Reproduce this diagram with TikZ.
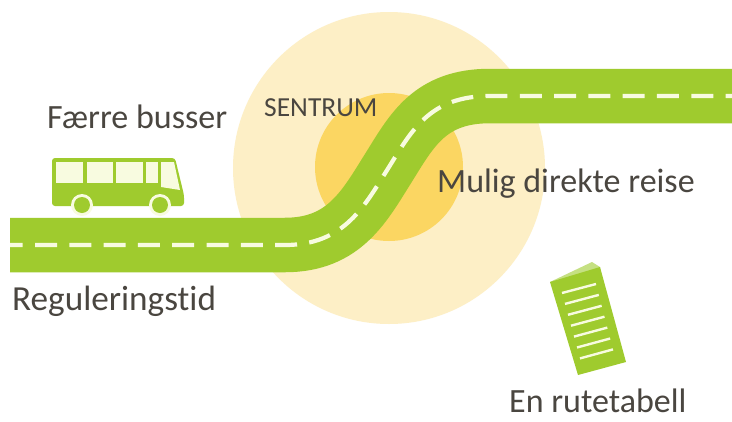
\documentclass[tikz,border=0pt]{standalone}
\usepackage{fontspec}
\setmainfont[Ligatures=NoCommon,Contextuals=NoAlternate]{Carlito}
\definecolor{roadg}{HTML}{9FCB2E}
\definecolor{pale}{HTML}{FDEFC6}
\definecolor{gold}{HTML}{FBD662}
\definecolor{txt}{HTML}{4A4640}
\definecolor{ring}{HTML}{F8FBE0}
\tikzset{
 lbl/.style={text=txt,inner sep=0pt,font=\fontsize{34pt}{36pt}\selectfont},
 win/.style={fill=ring,draw=none},
 bookline/.style={draw=ring,line width=2.4pt},
 roadpath/.style={draw=roadg,line width=54.5pt},
 roaddash/.style={draw=ring,line width=4.2pt,dash pattern=on 22pt off 12.3pt,dash phase=9.3pt}
}
\begin{document}
\begin{tikzpicture}[x=1pt,y=-1pt]
\useasboundingbox (0,0) rectangle (732,421);
\fill[white] (0,0) rectangle (732,421);
\node[circle,fill=pale,minimum size=312pt,inner sep=0pt] (big) at (389,168) {};
\node[circle,fill=gold,minimum size=148pt,inner sep=0pt] (inner) at (389,167) {};
\def\roadcurve{(10,245) -- (285,245) .. controls (345,245) and (365,205) .. (389,167) .. controls (412,130) and (430,96) .. (490,96) -- (732,96)}
\path[roadpath] \roadcurve;
\path[roaddash] \roadcurve;
% bus
\fill[roadg,rounded corners=3pt] (52,158) -- (175,158) -- (184,195) -- (184,206) -- (52,206) -- cycle;
\fill[win] (56,162) rectangle (83,183);
\fill[win] (87,162) rectangle (113,183);
\fill[win] (116,162) rectangle (143,183);
\fill[win] (146,162) rectangle (158,183);
\fill[win] (161,162) -- (174,162) -- (180,190) -- (161,187) -- cycle;
\foreach \wx in {82,160}{
 \fill[ring] (\wx,205) circle (11);
 \fill[roadg] (\wx,205) circle (8);
}
% booklet
\fill[roadg!60!white] (550,282) -- (592,262) -- (600,267) -- (600,280) -- cycle;
\fill[roadg] (550,282) -- (600,267) -- (626,362) -- (578,375) -- cycle;
\foreach \i in {0,...,6}{
 \draw[bookline] ({562+3*\i},{293+10.9*\i}) -- ({596+2.83*\i},{284+10.9*\i});
}
\node[lbl,anchor=base west] (a) at (47,128) {Færre busser};
\node[lbl,anchor=base west,font=\fontsize{35.2pt}{36pt}\selectfont] (b) at (12,310) {Regulering{}stid};
\node[lbl,anchor=base west] (c) at (437,192) {Mulig direkte reise};
\node[lbl,anchor=base west] (d) at (509,412.5) {En rutetabell};
\node[text=txt,inner sep=0pt,anchor=base west,font=\fontsize{27.5pt}{30pt}\selectfont] (e) at (264,116) {SENTRUM};
\end{tikzpicture}
\end{document}
